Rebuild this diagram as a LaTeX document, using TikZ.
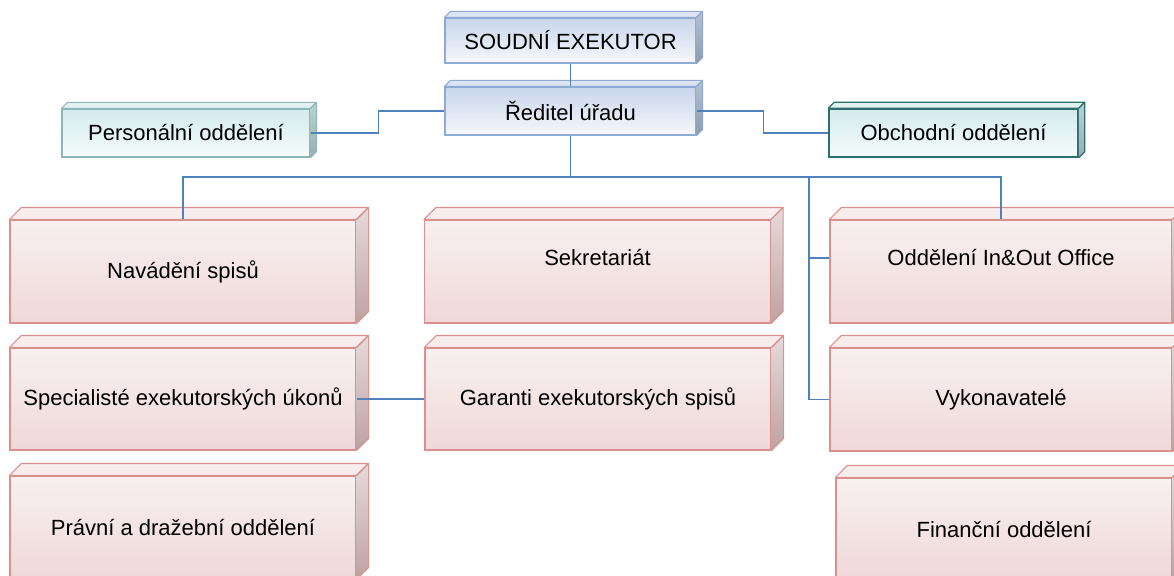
\documentclass[tikz,border=0pt]{standalone}
\usepackage{fontspec}
\setmainfont{Liberation Sans}
\definecolor{conncol}{HTML}{4F81BD}
\definecolor{bluebd}{HTML}{8EA9D2}
\definecolor{bluetop}{HTML}{C8D5EA}
\definecolor{bluebot}{HTML}{F6F8FC}
\definecolor{blueside}{HTML}{B4C0D2}
\definecolor{bluesideb}{HTML}{8E9BB0}
\definecolor{bluecap}{HTML}{DCE4F1}
\definecolor{tealbd}{HTML}{8CB6B9}
\definecolor{tealdark}{HTML}{2F6E6E}
\definecolor{tealtop}{HTML}{D3EBED}
\definecolor{tealbot}{HTML}{F6FBFB}
\definecolor{tealside}{HTML}{BCD2D3}
\definecolor{tealsideb}{HTML}{97AFB0}
\definecolor{tealcap}{HTML}{E2F1F2}
\definecolor{pinkbd}{HTML}{D9908F}
\definecolor{pinktop}{HTML}{F8F0F0}
\definecolor{pinkbot}{HTML}{F0D8D8}
\definecolor{pinkside}{HTML}{E6DADA}
\definecolor{pinksideb}{HTML}{BEA2A2}
\definecolor{pinkcap}{HTML}{F8EDED}
\tikzset{
  lbl/.style={font=\fontsize{22}{26}\selectfont, text=black},
  frontbox/.style={draw=#1, line width=1.1pt, inner sep=0pt, lbl},
  bluebox/.style={frontbox=bluebd, top color=bluetop, bottom color=bluebot},
  tealbox/.style={frontbox=tealbd, top color=tealtop, bottom color=tealbot},
  tealdbox/.style={frontbox=tealdark, line width=1.5pt, top color=tealtop, bottom color=tealbot},
  pinkbox/.style={frontbox=pinkbd, top color=pinktop, bottom color=pinkbot},
  conn/.style={draw=conncol, line width=1.6pt},
}
% #1 node, #2 depth, #3 cap colour, #4 side top, #5 side bottom, #6 border
\newcommand\drawcube[6]{%
  \filldraw[fill=#3, draw=#6, line width=1.1pt, line join=round]
    (#1.north west) -- ++(#2,-#2) -- ([shift={(#2,-#2)}]#1.north east) -- (#1.north east) -- cycle;
  \shade[top color=#4, bottom color=#5]
    (#1.north east) -- ++(#2,-#2) -- ([shift={(#2,-#2)}]#1.south east) -- (#1.south east) -- cycle;
  \draw[draw=#6, line width=1.1pt, line join=round]
    (#1.north east) -- ++(#2,-#2) -- ([shift={(#2,-#2)}]#1.south east) -- (#1.south east);
}
\begin{document}
\begin{tikzpicture}[x=1pt,y=-1pt]
\useasboundingbox (0,0) rectangle (1174,575);
\clip (0,0) rectangle (1174,575);
% top boxes
\node[bluebox, minimum width=251pt, minimum height=45pt] (se) at (570.5,40.5) {SOUDNÍ EXEKUTOR};
\drawcube{se}{6}{bluecap}{blueside}{bluesideb}{bluebd}
\node[bluebox, minimum width=251pt, minimum height=48pt] (red) at (570.5,111) {Ředitel úřadu};
\drawcube{red}{6}{bluecap}{blueside}{bluesideb}{bluebd}
\node[tealbox, minimum width=248pt, minimum height=48pt] (pers) at (186,133) {Personální oddělení};
\drawcube{pers}{6}{tealcap}{tealside}{tealsideb}{tealbd}
\node[tealdbox, minimum width=249pt, minimum height=48pt] (obch) at (953.5,133) {Obchodní oddělení};
\drawcube{obch}{6}{tealcap}{tealside}{tealsideb}{tealdark}
% pink boxes
\node[pinkbox, minimum width=346pt, minimum height=103pt] (nav) at (183,271.5) {Navádění spisů};
\drawcube{nav}{12}{pinkcap}{pinkside}{pinksideb}{pinkbd}
\node[pinkbox, minimum width=346pt, minimum height=102pt] (spec) at (183,399) {Specialisté exekutorských úkonů};
\drawcube{spec}{12}{pinkcap}{pinkside}{pinksideb}{pinkbd}
\node[pinkbox, minimum width=346pt, minimum height=103pt] (prav) at (183,527.5) {Právní a dražební oddělení};
\drawcube{prav}{12}{pinkcap}{pinkside}{pinksideb}{pinkbd}
\node[pinkbox, minimum width=346pt, minimum height=103pt] (sek) at (597.5,271.5) {};
\drawcube{sek}{12}{pinkcap}{pinkside}{pinksideb}{pinkbd}
\node[lbl] (sekt) at ([yshift=13.5pt]sek.center) {Sekretariát};
\node[pinkbox, minimum width=346pt, minimum height=102pt] (gar) at (598,399) {Garanti exekutorských spisů};
\drawcube{gar}{12}{pinkcap}{pinkside}{pinksideb}{pinkbd}
\node[pinkbox, minimum width=342pt, minimum height=103pt] (io) at (1001,271.5) {};
\drawcube{io}{12}{pinkcap}{pinkside}{pinksideb}{pinkbd}
\node[lbl] (iot) at ([yshift=13.5pt]io.center) {Oddělení In\&Out Office};
\node[pinkbox, minimum width=342pt, minimum height=103pt] (vyk) at (1001,399.5) {Vykonavatelé};
\drawcube{vyk}{12}{pinkcap}{pinkside}{pinksideb}{pinkbd}
\node[pinkbox, minimum width=336pt, minimum height=103pt] (fin) at (1004,529.5) {Finanční oddělení};
\drawcube{fin}{12}{pinkcap}{pinkside}{pinksideb}{pinkbd}
% connectors
\coordinate (bus) at (570,177);
\coordinate (rtop) at (809,177);
\draw[conn] (se.south) -- (red.north);
\draw[conn] (red.south) -- (red.south |- bus);
\draw[conn] (nav.north) -- (nav.north |- bus) -- (io.north |- bus) -- (io.north);
\draw[conn] (rtop) -- (rtop |- vyk.west) -- (vyk.west);
\draw[conn] (rtop |- iot.center) -- (io.west |- iot.center);
\draw[conn] (pers.east) -- ++(68,0) |- (red.west);
\draw[conn] (red.east) -- ++(67,0) |- (obch.west);
\draw[conn] (spec.east) -- (gar.west);
\end{tikzpicture}
\end{document}
